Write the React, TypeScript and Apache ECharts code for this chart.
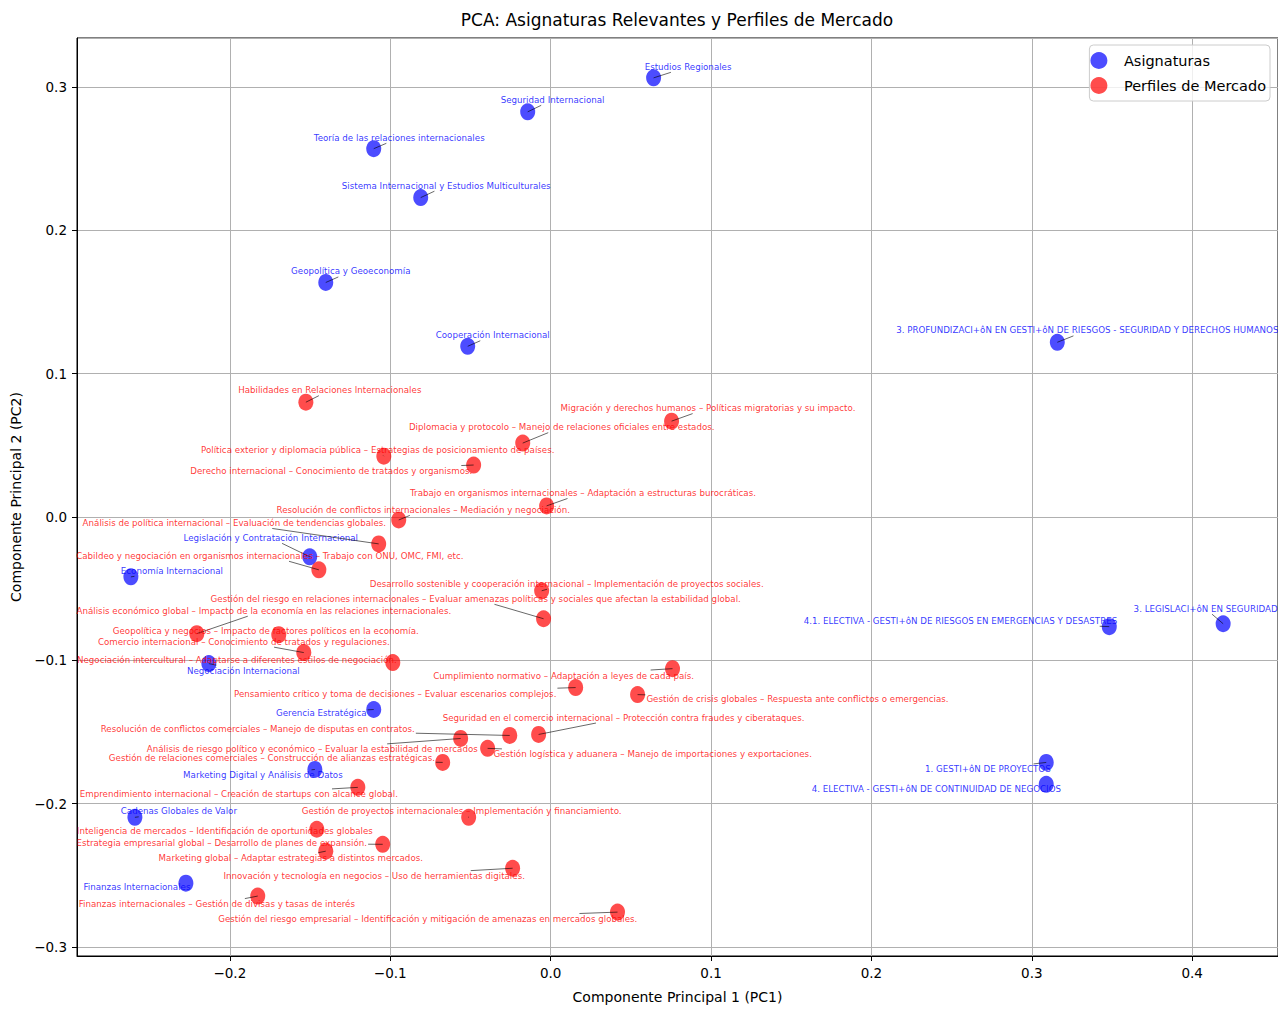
import React, { useEffect, useRef } from "react";
import * as echarts from "echarts";

// ---------- Asignaturas (blue) ----------
const asigNames = [
  "Estudios Regionales",
  "Seguridad Internacional",
  "Teoría de las relaciones internacionales",
  "Sistema Internacional y Estudios Multiculturales",
  "Geopolítica y Geoeconomía",
  "Cooperación Internacional",
  "3. PROFUNDIZACI+ôN EN GESTI+ôN DE RIESGOS - SEGURIDAD Y DERECHOS HUMANOS",
  "Legislación y Contratación Internacional",
  "Economía Internacional",
  "Negociación Internacional",
  "Gerencia Estratégica",
  "Marketing Digital y Análisis de Datos",
  "Cadenas Globales de Valor",
  "Finanzas Internacionales",
  "4.1. ELECTIVA - GESTI+ôN DE RIESGOS EN EMERGENCIAS Y DESASTRES",
  "3. LEGISLACI+ôN EN SEGURIDAD",
  "1. GESTI+ôN DE PROYECTOS",
  "4. ELECTIVA - GESTI+ôN DE CONTINUIDAD DE NEGOCIOS",
];
const asigPC1 = [0.0642, -0.0143, -0.1103, -0.081, -0.1402, -0.0517, 0.3159, -0.1502, -0.2617, -0.2131, -0.1103, -0.147, -0.2592, -0.2274, 0.3483, 0.4193, 0.309, 0.309];
const asigPC2 = [0.3062, 0.2825, 0.2568, 0.2227, 0.1635, 0.119, 0.1218, -0.0278, -0.0418, -0.1023, -0.1343, -0.1761, -0.2095, -0.2554, -0.0765, -0.0745, -0.1712, -0.1865];
// label anchor (text centre) in data units
const asigLabelPC1 = [0.0857, 0.0012, -0.0944, -0.0651, -0.1246, -0.0361, 0.3346, -0.1745, -0.2361, -0.1916, -0.143, -0.1794, -0.2318, -0.2579, 0.2555, 0.4084, 0.2726, 0.2405];
const asigLabelPC2 = [0.3139, 0.2909, 0.2644, 0.231, 0.1712, 0.1267, 0.1301, -0.0146, -0.0376, -0.1072, -0.1364, -0.1802, -0.2053, -0.2582, -0.0724, -0.064, -0.1761, -0.19];

// ---------- Perfiles de Mercado (red) ----------
const perfNames = [
  "Habilidades en Relaciones Internacionales",
  "Migración y derechos humanos – Políticas migratorias y su impacto.",
  "Diplomacia y protocolo – Manejo de relaciones oficiales entre estados.",
  "Política exterior y diplomacia pública – Estrategias de posicionamiento de países.",
  "Derecho internacional – Conocimiento de tratados y organismos.",
  "Trabajo en organismos internacionales – Adaptación a estructuras burocráticas.",
  "Resolución de conflictos internacionales – Mediación y negociación.",
  "Análisis de política internacional – Evaluación de tendencias globales.",
  "Cabildeo y negociación en organismos internacionales – Trabajo con ONU, OMC, FMI, etc.",
  "Desarrollo sostenible y cooperación internacional – Implementación de proyectos sociales.",
  "Gestión del riesgo en relaciones internacionales – Evaluar amenazas políticas y sociales que afectan la estabilidad global.",
  "Análisis económico global – Impacto de la economía en las relaciones internacionales.",
  "Geopolítica y negocios – Impacto de factores políticos en la economía.",
  "Comercio internacional – Conocimiento de tratados y regulaciones.",
  "Negociación intercultural – Adaptarse a diferentes estilos de negociación.",
  "Cumplimiento normativo – Adaptación a leyes de cada país.",
  "Pensamiento crítico y toma de decisiones – Evaluar escenarios complejos.",
  "Gestión de crisis globales – Respuesta ante conflictos o emergencias.",
  "Seguridad en el comercio internacional – Protección contra fraudes y ciberataques.",
  "Resolución de conflictos comerciales – Manejo de disputas en contratos.",
  "Análisis de riesgo político y económico – Evaluar la estabilidad de mercados",
  "Gestión logística y aduanera – Manejo de importaciones y exportaciones.",
  "Gestión de relaciones comerciales – Construcción de alianzas estratégicas.",
  "Emprendimiento internacional – Creación de startups con alcance global.",
  "Gestión de proyectos internacionales – Implementación y financiamiento.",
  "Inteligencia de mercados – Identificación de oportunidades globales",
  "Estrategia empresarial global – Desarrollo de planes de expansión.",
  "Marketing global – Adaptar estrategias a distintos mercados.",
  "Innovación y tecnología en negocios – Uso de herramientas digitales.",
  "Finanzas internacionales – Gestión de divisas y tasas de interés",
  "Gestión del riesgo empresarial – Identificación y mitigación de amenazas en mercados globales.",
];
const perfPC1 = [-0.1526, 0.0754, -0.0174, -0.104, -0.048, -0.0025, -0.0947, -0.1072, -0.1445, -0.0056, -0.0044, -0.2206, -0.1695, -0.1539, -0.0984, 0.076, 0.0156, 0.0542, -0.0075, -0.0255, -0.0561, -0.0393, -0.0673, -0.1202, -0.0511, -0.1458, -0.1047, -0.1402, -0.0237, -0.1826, 0.0417];
const perfPC2 = [0.08, 0.0668, 0.0515, 0.0424, 0.0362, 0.0077, -0.0021, -0.0188, -0.0369, -0.0515, -0.071, -0.0814, -0.0821, -0.0946, -0.1016, -0.1058, -0.119, -0.1239, -0.1517, -0.1524, -0.1545, -0.1614, -0.1712, -0.1886, -0.2095, -0.2178, -0.2283, -0.2331, -0.245, -0.2644, -0.2756];
const perfLabelPC1 = [-0.1377, 0.0981, 0.0069, -0.1078, -0.1368, 0.0202, -0.0794, -0.1972, -0.1751, 0.01, -0.0467, -0.1788, -0.1776, -0.1913, -0.1956, 0.0081, -0.0969, 0.1539, 0.0455, -0.1826, -0.1486, 0.0636, -0.1738, -0.1944, -0.0555, -0.2031, -0.205, -0.162, -0.11, -0.2081, -0.0766];
const perfLabelPC2 = [0.0884, 0.0759, 0.0626, 0.0466, 0.032, 0.0167, 0.0049, -0.0042, -0.0271, -0.0466, -0.0571, -0.0654, -0.0793, -0.087, -0.0995, -0.1106, -0.1232, -0.1273, -0.1399, -0.1482, -0.1621, -0.1656, -0.1684, -0.1935, -0.2053, -0.2192, -0.2276, -0.238, -0.2505, -0.27, -0.2804];

const seriesNames = ["Asignaturas", "Perfiles de Mercado"];
const chartTitle = "PCA: Asignaturas Relevantes y Perfiles de Mercado";
const xAxisName = "Componente Principal 1 (PC1)";
const yAxisName = "Componente Principal 2 (PC2)";

const LABEL_FONT = 8.7;
const FONT = "DejaVu Sans";

export default function App() {
  const ref = useRef<HTMLDivElement>(null);

  useEffect(() => {
    if (!ref.current) return;
    const chart = echarts.init(ref.current, undefined, { renderer: "svg" });

    const ctx = document.createElement("canvas").getContext("2d");
    const measure = (t: string) => {
      if (!ctx) return t.length * LABEL_FONT * 0.55;
      ctx.font = `${LABEL_FONT}px "${FONT}"`;
      return ctx.measureText(t).width;
    };

    const asigData = asigPC1.map((x, i) => [x, asigPC2[i]]);
    const perfData = perfPC1.map((x, i) => [x, perfPC2[i]]);
    const labelData: number[][] = [];
    asigPC1.forEach((x, i) => labelData.push([x, asigPC2[i], asigLabelPC1[i], asigLabelPC2[i], i, 0]));
    perfPC1.forEach((x, i) => labelData.push([x, perfPC2[i], perfLabelPC1[i], perfLabelPC2[i], i, 1]));

    const fmt = (v: number) => v.toFixed(1).replace("-", "\u2212");

    chart.setOption({
      animation: false,
      backgroundColor: "#ffffff",
      title: {
        text: chartTitle,
        left: 677,
        textAlign: "center",
        top: 11,
        padding: 0,
        textStyle: { fontFamily: FONT, fontSize: 17, fontWeight: "normal", color: "#000" },
      },
      legend: {
        data: seriesNames,
        orient: "vertical",
        right: 8,
        top: 45,
        padding: [7, 4, 7, 1],
        itemWidth: 40,
        itemHeight: 17,
        itemGap: 8,
        icon: "circle",
        backgroundColor: "rgba(255,255,255,0.8)",
        borderColor: "#cccccc",
        borderWidth: 1,
        borderRadius: 4,
        textStyle: { fontFamily: FONT, fontSize: 14.5, color: "#000" },
      },
      grid: { left: 77, right: -2, top: 38, bottom: 51, show: true, borderColor: "#000", borderWidth: 1, containLabel: false },
      xAxis: {
        type: "value",
        min: -0.2953,
        max: 0.4535,
        minInterval: 0.1,
        maxInterval: 0.1,
        name: xAxisName,
        nameLocation: "middle",
        nameGap: 34,
        nameTextStyle: { fontFamily: FONT, fontSize: 14, color: "#000" },
        axisLine: { show: true, onZero: false, lineStyle: { color: "#000", width: 1 } },
        axisTick: { show: true, length: 5, lineStyle: { color: "#000" } },
        axisLabel: { formatter: fmt, fontFamily: FONT, fontSize: 13.5, color: "#000", margin: 10, showMinLabel: false, showMaxLabel: false },
        splitLine: { show: true, lineStyle: { color: "#b0b0b0", width: 1 } },
      },
      yAxis: {
        type: "value",
        min: -0.3062,
        max: 0.334,
        minInterval: 0.1,
        maxInterval: 0.1,
        name: yAxisName,
        nameLocation: "middle",
        nameGap: 53,
        nameTextStyle: { fontFamily: FONT, fontSize: 14, color: "#000" },
        axisLine: { show: true, onZero: false, lineStyle: { color: "#000", width: 1 } },
        axisTick: { show: true, length: 5, lineStyle: { color: "#000" } },
        axisLabel: { formatter: fmt, fontFamily: FONT, fontSize: 13.5, color: "#000", margin: 10, showMinLabel: false, showMaxLabel: false },
        splitLine: { show: true, lineStyle: { color: "#b0b0b0", width: 1 } },
      },
      series: [
        {
          name: seriesNames[0],
          type: "scatter",
          data: asigData,
          symbol: "circle",
          symbolSize: [15, 17],
          itemStyle: { color: "#0000ff", opacity: 0.7 },
          z: 2,
        },
        {
          name: seriesNames[1],
          type: "scatter",
          data: perfData,
          symbol: "circle",
          symbolSize: [15, 17],
          itemStyle: { color: "#ff0000", opacity: 0.7 },
          z: 2,
        },
        {
          name: "labels",
          type: "custom",
          silent: true,
          clip: false,
          z: 5,
          encode: { x: 0, y: 1 },
          data: labelData,
          renderItem: (params: any, api: any) => {
            const p = api.coord([api.value(0), api.value(1)]);
            const c = api.coord([api.value(2), api.value(3)]);
            const idx = api.value(4);
            const grp = api.value(5);
            const name = grp === 0 ? asigNames[idx] : perfNames[idx];
            const hw = measure(name) / 2 + 1;
            const hh = 5.5;
            const dx = p[0] - c[0];
            const dy = p[1] - c[1];
            let t = Infinity;
            if (dx !== 0) t = Math.min(t, hw / Math.abs(dx));
            if (dy !== 0) t = Math.min(t, hh / Math.abs(dy));
            const children: any[] = [];
            if (t < 1) {
              children.push({
                type: "line",
                shape: { x1: c[0] + dx * t, y1: c[1] + dy * t, x2: p[0], y2: p[1] },
                style: { stroke: "#000000", lineWidth: 0.7, opacity: 0.85 },
              });
            }
            children.push({
              type: "text",
              x: c[0],
              y: c[1],
              style: {
                text: name,
                fill: grp === 0 ? "rgba(0,0,255,0.8)" : "rgba(255,0,0,0.8)",
                fontSize: LABEL_FONT,
                fontFamily: FONT,
                align: "center",
                verticalAlign: "middle",
              },
            });
            return { type: "group", children };
          },
        },
      ],
    });

    return () => chart.dispose();
  }, []);

  return (
    <div
      ref={ref}
      style={{ position: "absolute", left: 0, top: 0, width: 1278, height: 1009, background: "#fff" }}
    />
  );
}
